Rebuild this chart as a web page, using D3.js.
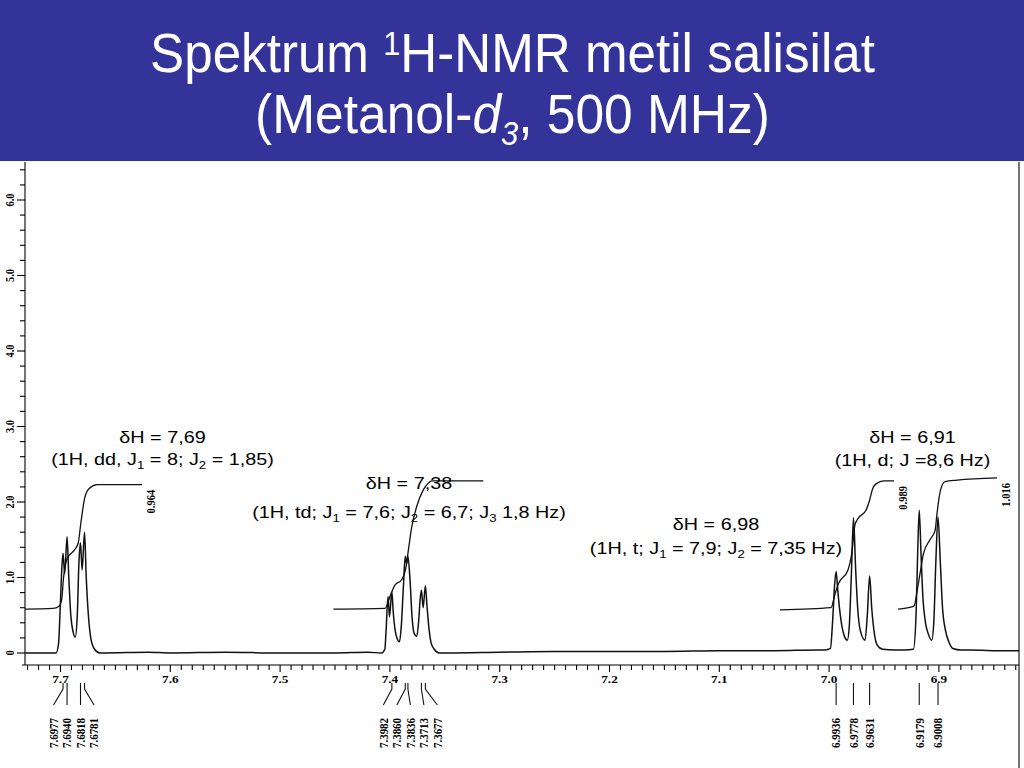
<!DOCTYPE html>
<html>
<head>
<meta charset="utf-8">
<script src="https://cdn.jsdelivr.net/npm/d3@7/dist/d3.min.js"></script>
<style>
html,body{margin:0;padding:0;background:#fff;}
svg{display:block;}
</style>
</head>
<body>
<script>
// ================= DATA =================
const titleLine1 = [["Spektrum ", ""], ["1", "sup"], ["H-NMR metil salisilat", ""]];
const titleLine2 = [["(Metanol-", ""], ["d", "it"], ["3", "itsub"], [", 500 MHz)", ""]];

const xTickValues = [7.7, 7.6, 7.5, 7.4, 7.3, 7.2, 7.1, 7.0, 6.9];
const xTickLabels = ["7.7", "7.6", "7.5", "7.4", "7.3", "7.2", "7.1", "7.0", "6.9"];
const yTickValues = [0, 1, 2, 3, 4, 5, 6];
const yTickLabels = ["0", "1.0", "2.0", "3.0", "4.0", "5.0", "6.0"];

// spectrum trace: [ppm, intensity]
const baselinePts = [[7.7323,0],[7.715,0],[7.66,0],[7.62,0.01],[7.60,0],[7.55,0.01],[7.50,0],[7.45,0],[7.42,0.01],
  [7.35,0],[7.30,0.01],[7.25,0.02],[7.20,0.02],[7.15,0.02],[7.10,0.03],[7.05,0.03],[7.01,0.04],
  [6.94,0.04],[6.87,0.04],[6.85,0.03],[6.827,0.03]];
const multiplet1 = [[7.7040,0.00],[7.7018,0.12],[7.7002,0.62],[7.6988,1.12],[7.6977,1.32],[7.6962,1.05],[7.6940,1.54],
  [7.6925,1.02],[7.6906,0.50],[7.6884,0.27],[7.6866,0.21],[7.6848,0.47],[7.6832,1.20],[7.6818,1.46],[7.6803,1.10],
  [7.6781,1.60],[7.6766,1.02],[7.6745,0.48],[7.6722,0.18],[7.6690,0.05],[7.6640,0.00]];
const multiplet2 = [[7.4078,0.00],[7.4046,0.05],[7.4034,0.32],[7.4017,0.75],[7.4004,0.48],[7.3982,0.81],[7.3970,0.55],
  [7.3952,0.30],[7.3934,0.19],[7.3913,0.15],[7.3896,0.36],[7.3878,0.85],[7.3860,1.28],[7.3848,1.18],[7.3836,1.28],
  [7.3816,0.95],[7.3798,0.47],[7.3779,0.26],[7.3756,0.22],[7.3738,0.42],[7.3724,0.72],[7.3713,0.83],[7.3697,0.60],
  [7.3677,0.89],[7.3662,0.62],[7.3643,0.31],[7.3624,0.13],[7.3596,0.05],[7.3550,0.00]];
const multiplet3 = [[7.0035,0.04],[6.9988,0.06],[6.9968,0.42],[6.9950,0.90],[6.9936,1.08],[6.9922,0.85],[6.9906,0.60],
  [6.9884,0.36],[6.9860,0.22],[6.9834,0.17],[6.9816,0.36],[6.9798,1.00],[6.9778,1.79],[6.9758,1.10],[6.9738,0.56],
  [6.9716,0.30],[6.9673,0.17],[6.9652,0.50],[6.9631,1.02],[6.9612,0.60],[6.9588,0.26],[6.9560,0.10],[6.9512,0.05]];
const multiplet4 = [[6.9315,0.04],[6.9232,0.05],[6.9207,0.55],[6.9192,1.40],[6.9179,1.89],[6.9163,1.32],[6.9145,0.72],
  [6.9122,0.40],[6.9096,0.25],[6.9065,0.17],[6.9046,0.42],[6.9028,1.20],[6.9008,1.80],[6.8987,1.20],[6.8968,0.62],
  [6.8940,0.30],[6.8910,0.15],[6.8872,0.06],[6.8800,0.04]];

// integral curves: [ppm, height]
const integral1 = [[7.7323,0.58],[7.7068,0.59],[7.7014,0.62],[7.6990,0.70],[7.6972,1.00],[7.6940,1.25],[7.6876,1.36],
  [7.6840,1.45],[7.6812,1.75],[7.6780,2.05],[7.6739,2.18],[7.6666,2.23],[7.6258,2.23]];
const integral2 = [[7.4515,0.58],[7.4045,0.59],[7.3999,0.75],[7.3954,0.90],[7.3893,0.97],[7.3853,1.14],[7.3832,1.36],
  [7.3801,1.67],[7.3756,1.94],[7.3696,2.16],[7.3650,2.25],[7.3619,2.28],[7.3149,2.28]];
const integral3 = [[7.0447,0.57],[6.9983,0.60],[6.9946,0.78],[6.9914,0.92],[6.9828,1.10],[6.9791,1.35],[6.9764,1.70],
  [6.9737,1.78],[6.9664,1.89],[6.9632,2.02],[6.9605,2.17],[6.9573,2.24],[6.9500,2.28],[6.9409,2.28]];
const integral4 = [[6.9373,0.58],[6.9227,0.62],[6.9195,0.85],[6.9172,1.05],[6.9140,1.32],[6.9081,1.50],[6.9035,1.62],
  [6.9017,1.85],[6.8999,2.05],[6.8981,2.18],[6.8944,2.27],[6.8834,2.29],[6.8470,2.32]];
const integralLabels = ["0.964", "", "0.989", "1.016"];

// peak picking list
const peakGroup1 = [7.6977, 7.6940, 7.6818, 7.6781];
const peakGroup2 = [7.3982, 7.3860, 7.3836, 7.3713, 7.3677];
const peakGroup3 = [6.9936, 6.9778, 6.9631];
const peakGroup4 = [6.9179, 6.9008];

// annotations (use _n for subscripts)
const annotationLines1 = ["δH = 7,69", "δH = 7,38", "δH = 6,98", "δH = 6,91"];
const annotationLines2 = ["(1H, dd, J_1 = 8; J_2 = 1,85)", "(1H, td; J_1 = 7,6; J_2 = 6,7; J_3 1,8 Hz)",
  "(1H, t; J_1 = 7,9; J_2 = 7,35 Hz)", "(1H, d; J =8,6 Hz)"];

// ================= LAYOUT =================
const SANS = "'Liberation Sans', Arial, Helvetica, sans-serif";
const SERIF = "'Liberation Serif', 'Times New Roman', serif";
const STRETCH = 1.2;           // horizontal stretch of the embedded spectrum picture
const annAnchors = [            // centre x (px), baseline y line1, line2
  [162.5, 443, 465], [409, 489, 518], [716, 530, 554], [912.5, 443, 466]
];

const svg = d3.select("body").append("svg").attr("width", 1024).attr("height", 768);
svg.append("rect").attr("width", 1024).attr("height", 768).attr("fill", "#ffffff");
svg.append("rect").attr("x", 0).attr("y", 0).attr("width", 1024).attr("height", 161).attr("fill", "#333399");

const x = d3.scaleLinear().domain([7.7, 6.9]).range([60.5, 938.9]);
const y = d3.scaleLinear().domain([0, 6]).range([653, 200]);

function rich(parent, parts, size, subSize, subDy, supDy, fill) {
  const t = parent.append("text").attr("text-anchor", "middle").attr("font-size", size)
    .attr("font-family", SANS).attr("fill", fill);
  let pend = 0;
  parts.forEach(([txt, kind]) => {
    const ts = t.append("tspan").text(txt);
    let shift = 0;
    if (kind === "sub" || kind === "itsub") shift = subDy;
    if (kind === "sup") shift = -supDy;
    if (kind === "sub" || kind === "itsub" || kind === "sup") ts.attr("font-size", subSize);
    if (kind === "it" || kind === "itsub") ts.attr("font-style", "italic");
    const dy = shift - pend;
    if (dy) ts.attr("dy", dy);
    pend = shift;
  });
  return t;
}
function parseSubs(str) {
  const parts = []; const re = /_(\d)/g; let last = 0, m;
  while ((m = re.exec(str))) {
    if (m.index > last) parts.push([str.slice(last, m.index), ""]);
    parts.push([m[1], "sub"]); last = m.index + m[0].length;
  }
  if (last < str.length) parts.push([str.slice(last), ""]);
  return parts;
}

// ---- title ----
[[titleLine1, 72, 725], [titleLine2, 133, 515]].forEach(([parts, base, target]) => {
  const g = svg.append("g");
  const t = rich(g, parts, 55, 33, 12, 17, "#ffffff");
  const w = t.node().getBBox().width;
  g.attr("transform", `translate(512.5,${base}) scale(${target / w},1)`);
});

// ---- axes ----
const axes = svg.append("g").attr("stroke", "#000").attr("stroke-width", 1.1).attr("fill", "none");
axes.append("line").attr("x1", 25).attr("x2", 25).attr("y1", 162).attr("y2", 665);
axes.append("line").attr("x1", 22).attr("x2", 1019).attr("y1", 665).attr("y2", 665);
axes.append("line").attr("x1", 1019).attr("x2", 1019).attr("y1", 162).attr("y2", 768);

// y ticks every 0.2
d3.range(0, 6.41, 0.2).forEach(v => {
  const major = Math.abs(v - Math.round(v)) < 1e-6;
  axes.append("line").attr("x1", major ? 17 : 20).attr("x2", 25).attr("y1", y(v)).attr("y2", y(v));
});
yTickValues.forEach((v, i) => {
  svg.append("text").attr("transform", `translate(10.5,${y(v)}) scale(${STRETCH},1) rotate(-90)`)
    .attr("text-anchor", "middle").attr("dominant-baseline", "central")
    .attr("font-family", SERIF).attr("font-weight", "bold").attr("font-size", 10.5).text(yTickLabels[i]);
});

// x ticks every 0.01
const xMin = x.invert(1019), xMax = x.invert(22);
d3.range(Math.ceil(xMin * 100), Math.floor(xMax * 100) + 1).forEach(k => {
  const p = k / 100; const major = k % 10 === 0;
  axes.append("line").attr("x1", x(p)).attr("x2", x(p)).attr("y1", 665).attr("y2", major ? 672 : 670);
});
xTickValues.forEach((v, i) => {
  svg.append("text").attr("transform", `translate(${x(v)},683) scale(${STRETCH},1)`)
    .attr("text-anchor", "middle").attr("font-family", SERIF).attr("font-weight", "bold")
    .attr("font-size", 11).text(xTickLabels[i]);
});

// ---- spectrum ----
const spectrum = baselinePts.concat(multiplet1, multiplet2, multiplet3, multiplet4).sort((a, b) => b[0] - a[0]);
const line = d3.line().x(d => x(d[0])).y(d => y(d[1])).curve(d3.curveMonotoneX);
svg.append("path").datum(spectrum).attr("d", line).attr("fill", "none")
  .attr("stroke", "#111").attr("stroke-width", 1.5).attr("stroke-linejoin", "round");

// ---- integrals ----
[integral1, integral2, integral3, integral4].forEach((ig, i) => {
  svg.append("path").datum(ig).attr("d", line).attr("fill", "none")
    .attr("stroke", "#111").attr("stroke-width", 1.3);
  if (integralLabels[i]) {
    const end = ig[ig.length - 1];
    svg.append("text").attr("transform", `translate(${x(end[0]) + 9},${y(end[1]) + 17}) scale(${STRETCH},1) rotate(-90)`)
      .attr("text-anchor", "middle").attr("dominant-baseline", "central")
      .attr("font-family", SERIF).attr("font-weight", "bold").attr("font-size", 10.5).text(integralLabels[i]);
  }
});

// ---- peak labels ----
[peakGroup1, peakGroup2, peakGroup3, peakGroup4].forEach(g => {
  const px = g.map(p => x(p));
  const lx = px.slice();
  const gap = 13.5;
  for (let it = 0; it < 300; it++) {
    for (let i = 1; i < lx.length; i++) {
      const d = lx[i] - lx[i - 1];
      if (d < gap) { const s = (gap - d) / 2; lx[i - 1] -= s; lx[i] += s; }
    }
  }
  g.forEach((p, i) => {
    svg.append("path").attr("d", `M${px[i]},683V689L${lx[i]},705`).attr("fill", "none")
      .attr("stroke", "#111").attr("stroke-width", 1.1);
    svg.append("text").attr("transform", `translate(${lx[i]},733) scale(${STRETCH},1) rotate(-90)`)
      .attr("text-anchor", "middle").attr("dominant-baseline", "central")
      .attr("font-family", SERIF).attr("font-weight", "bold").attr("font-size", 11).text(p.toFixed(4));
  });
});

// ---- annotations ----
annAnchors.forEach(([cx, b1, b2], i) => {
  const g1 = svg.append("g").attr("transform", `translate(${cx},${b1}) scale(${STRETCH},1)`);
  rich(g1, parseSubs(annotationLines1[i]), 16.5, 11, 4, 0, "#000");
  const g2 = svg.append("g").attr("transform", `translate(${cx},${b2}) scale(${STRETCH},1)`);
  rich(g2, parseSubs(annotationLines2[i]), 16.5, 11, 4, 0, "#000");
});
</script>
</body>
</html>
